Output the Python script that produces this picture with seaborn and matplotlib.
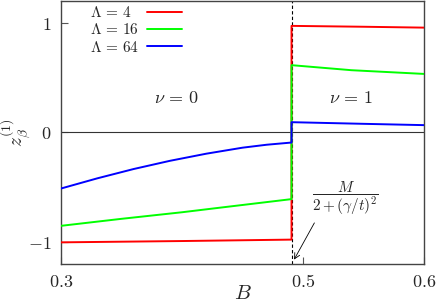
import numpy as np
import pandas as pd
import matplotlib
matplotlib.use('Agg')
import matplotlib.pyplot as plt
import seaborn as sns

# Data (B, z_beta^(1)); the jump is at B_c
B_c = 0.4905
B_red = [0.3, 0.4, B_c, B_c, 0.55, 0.6]
z_red = [-1.005, -0.993, -0.98, 0.973, 0.965, 0.957]
B_green = [0.3, 0.35, 0.4, 0.43, B_c, B_c, 0.54, 0.6]
z_green = [-0.854, -0.79, -0.73, -0.69, -0.61, 0.614, 0.568, 0.534]
B_blue = [0.3, 0.33, 0.36, 0.39, 0.42, 0.45, 0.47, B_c, B_c, 0.55, 0.6]
z_blue = [-0.513, -0.42, -0.335, -0.26, -0.195, -0.14, -0.113, -0.093,
          0.093, 0.078, 0.066]
labels = [r'$\Lambda\,=\,4$', r'$\Lambda\,=\,16$', r'$\Lambda\,=\,64$']
colors = ['#ff0000', '#00ff00', '#0000ff']

df = pd.concat([
    pd.DataFrame({'B': B_red, 'z': z_red, 'L': labels[0]}),
    pd.DataFrame({'B': B_green, 'z': z_green, 'L': labels[1]}),
    pd.DataFrame({'B': B_blue, 'z': z_blue, 'L': labels[2]}),
], ignore_index=True)

sns.set_style('ticks')
plt.rcParams['mathtext.fontset'] = 'cm'
plt.rcParams['font.family'] = ['DejaVu Serif']

fig = plt.figure(figsize=(4.36, 3.04), dpi=100)
ax = fig.add_axes([0.14, 0.1326, 0.8325, 0.864])

ax.axhline(0, color='#333333', lw=0.8, zorder=1)
ax.axvline(B_c, color='black', lw=0.8, ls=(0, (3, 2)), zorder=1)

sns.lineplot(data=df, x='B', y='z', hue='L', palette=colors, sort=False,
             estimator=None, lw=1.4, ax=ax, zorder=3)

ax.set_xlim(0.3, 0.6)
ax.set_ylim(-1.2, 1.2)
ax.set_xticks([0.3, 0.5, 0.6], ['$0.3$', '$0.5$', '$0.6$'])
ax.set_yticks([-1, 0, 1], ['$-1$', '$0$', '$1$'])
ax.tick_params(direction='in', length=5, width=0.8, labelsize=13, pad=7,
               color='#555555')
for s in ax.spines.values():
    s.set_color('#444444')
    s.set_linewidth(1.0)

ax.set_xlabel('$B$', fontsize=15, labelpad=-5)
ax.set_ylabel(r'$z_\beta^{(1)}$', fontsize=14, labelpad=-4)

leg = ax.legend(loc='upper left', bbox_to_anchor=(0.08, 0.985), frameon=False,
                markerfirst=False, fontsize=11, handlelength=2.3,
                labelspacing=0.15, handletextpad=0.65, borderpad=0,
                borderaxespad=0, title=None)
# gnuplot-style key: labels flush left, samples lined up on the right
for col in leg._legend_handle_box.get_children():
    for item in col.get_children():
        item.mode = 'expand'
        item.width = 92

ax.text(0.395, 0.315, r'$\nu\,=\,0$', fontsize=13, ha='center', va='center')
ax.text(0.5395, 0.315, r'$\nu\,=\,1$', fontsize=13, ha='center', va='center')

ax.text(0.5347, -0.607, r'$\dfrac{M}{2+(\gamma/t)^2}$', fontsize=11,
        ha='center', va='center')
ax.annotate('', xy=(B_c + 0.001, -1.185), xytext=(0.5105, -0.805),
            arrowprops=dict(arrowstyle='->', color='black', lw=0.6))

fig.savefig('out.png', dpi=100)
